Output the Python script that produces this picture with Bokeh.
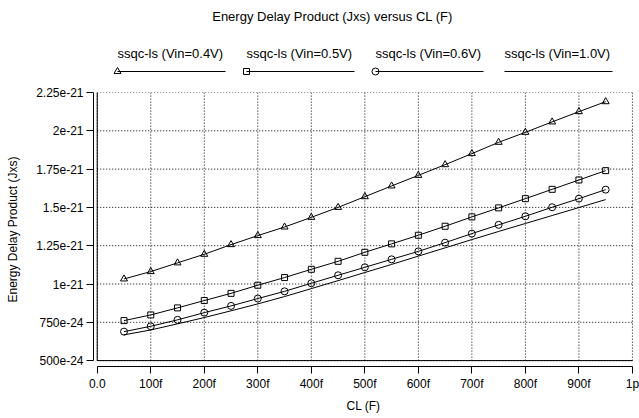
from bokeh.plotting import figure
from bokeh.models import Range1d, FixedTicker
from bokeh.layouts import column
from bokeh.embed import file_html
from bokeh.resources import INLINE
from bokeh.core.properties import value

FONT = "Liberation Sans"

TITLE = "Energy Delay Product (Jxs) versus CL (F)"
X_LABEL = "CL (F)"
Y_LABEL = "Energy Delay Product (Jxs)"

# load capacitance in fF
CL_fF = [50, 100, 150, 200, 250, 300, 350, 400, 450, 500,
         550, 600, 650, 700, 750, 800, 850, 900, 950]

# energy delay product, in units of 1e-21 J*s
EDP_VIN_04 = [1.033, 1.081, 1.138, 1.194, 1.257, 1.316, 1.372, 1.435, 1.500, 1.570,
              1.640, 1.709, 1.779, 1.851, 1.925, 1.990, 2.058, 2.125, 2.190]
EDP_VIN_05 = [0.761, 0.798, 0.844, 0.892, 0.939, 0.992, 1.042, 1.096, 1.148, 1.207,
              1.262, 1.318, 1.377, 1.438, 1.497, 1.557, 1.618, 1.679, 1.740]
EDP_VIN_06 = [0.689, 0.724, 0.766, 0.813, 0.857, 0.905, 0.952, 1.005, 1.057, 1.109,
              1.161, 1.213, 1.270, 1.329, 1.386, 1.442, 1.501, 1.557, 1.616]
EDP_VIN_10 = [0.668, 0.700, 0.740, 0.781, 0.825, 0.870, 0.918, 0.970, 1.022, 1.075,
              1.128, 1.182, 1.236, 1.290, 1.343, 1.395, 1.447, 1.499, 1.551]

SERIES_LABELS = ["ssqc-ls (Vin=0.4V)", "ssqc-ls (Vin=0.5V)",
                 "ssqc-ls (Vin=0.6V)", "ssqc-ls (Vin=1.0V)"]
SERIES_VALUES = [EDP_VIN_04, EDP_VIN_05, EDP_VIN_06, EDP_VIN_10]
SERIES_MARKERS = ["triangle", "square", "circle", None]
MARKER_SIZES = [7, 6, 7, 0]

X_TICKS = [0, 100, 200, 300, 400, 500, 600, 700, 800, 900, 1000]
X_TICK_LABELS = ["0.0", "100f", "200f", "300f", "400f", "500f",
                 "600f", "700f", "800f", "900f", "1p"]
Y_TICKS = [0.5, 0.75, 1.0, 1.25, 1.5, 1.75, 2.0, 2.25]
Y_TICK_LABELS = ["500e-24", "750e-24", "1e-21", "1.25e-21",
                 "1.5e-21", "1.75e-21", "2e-21", "2.25e-21"]

W = 639
TOP_H = 78
MAIN_H = 340

# ---------------- header: title + legend ----------------
head = figure(width=W, height=TOP_H, x_range=Range1d(0, W), y_range=Range1d(TOP_H, 0),
              x_axis_type=None, y_axis_type=None, toolbar_location=None,
              output_backend="svg", min_border=0, outline_line_color=None,
              title=None)
head.frame_align = False
head.xgrid.visible = False
head.ygrid.visible = False

head.text(x=[332], y=[16], text=[TITLE], text_align="center", text_baseline="middle",
          text_font=value(FONT), text_font_size="13px", text_color="black")

LEG_X0 = 117
LEG_DX = 129
LEG_LEN = 108
for i, lab in enumerate(SERIES_LABELS):
    x0 = LEG_X0 + LEG_DX * i
    head.text(x=[x0], y=[53], text=[lab], text_align="left", text_baseline="middle",
              text_font=value(FONT), text_font_size="13px", text_color="black")
    head.line(x=[x0, x0 + LEG_LEN], y=[71, 71], line_color="black", line_width=1)
    if SERIES_MARKERS[i]:
        head.scatter(x=[x0], y=[71], marker=SERIES_MARKERS[i], size=MARKER_SIZES[i],
                     line_color="black", fill_color=None, line_width=1)

# ---------------- main plot ----------------
Y_MIN, Y_MAX = Y_TICKS[0], Y_TICKS[-1]
X_MIN, X_MAX = X_TICKS[0], X_TICKS[-1]

p = figure(width=W, height=MAIN_H, x_range=Range1d(-7, 1002), y_range=Range1d(0.4615, 2.25),
           toolbar_location=None, output_backend="svg", title=None,
           min_border_left=93, min_border_right=6, min_border_top=14, min_border_bottom=52,
           outline_line_color=None)
p.frame_align = False
p.xgrid.visible = False
p.ygrid.visible = False

# dotted grid inside the box
p.segment(x0=X_TICKS, y0=[Y_MIN] * len(X_TICKS), x1=X_TICKS, y1=[Y_MAX] * len(X_TICKS),
          line_color="black", line_dash="1 2", line_width=1)
p.segment(x0=[X_MIN] * len(Y_TICKS), y0=Y_TICKS, x1=[X_MAX] * len(Y_TICKS), y1=Y_TICKS,
          line_color="black", line_dash="1 2", line_width=1)
# solid left / bottom of the box
p.segment(x0=[X_MIN, X_MIN], y0=[Y_MIN, Y_MIN], x1=[X_MIN, X_MAX], y1=[Y_MAX, Y_MIN],
          line_color="black", line_width=1)

for vals, mk, sz in zip(SERIES_VALUES, SERIES_MARKERS, MARKER_SIZES):
    p.line(x=CL_fF, y=vals, line_color="black", line_width=1)
    if mk:
        p.scatter(x=CL_fF, y=vals, marker=mk, size=sz, line_color="black",
                  fill_color=None, line_width=1)

for ax in (p.xaxis[0], p.yaxis[0]):
    ax.axis_line_color = "black"
    ax.axis_line_width = 1
    ax.major_tick_in = 0
    ax.major_tick_out = 7
    ax.major_tick_line_color = "black"
    ax.minor_tick_line_color = None
    ax.major_label_standoff = 3
    ax.major_label_text_font = FONT
    ax.major_label_text_font_size = "12px"
    ax.major_label_text_color = "black"
    ax.axis_label_text_font = FONT
    ax.axis_label_text_font_size = "12px"
    ax.axis_label_text_font_style = "normal"
    ax.axis_label_text_color = "black"

p.xaxis.ticker = FixedTicker(ticks=X_TICKS)
p.xaxis.major_label_overrides = dict(zip(X_TICKS, X_TICK_LABELS))
p.xaxis.bounds = (X_MIN, X_MAX)
p.xaxis.axis_label = X_LABEL
p.xaxis.axis_label_standoff = 5

p.yaxis.ticker = FixedTicker(ticks=Y_TICKS)
p.yaxis.major_label_overrides = dict(zip(Y_TICKS, Y_TICK_LABELS))
p.yaxis.bounds = (Y_MIN, Y_MAX)
p.yaxis.axis_label = Y_LABEL
p.yaxis.axis_label_standoff = 13

layout = column(head, p, spacing=0)

with open("out.html", "w") as f:
    f.write(file_html(layout, INLINE))
